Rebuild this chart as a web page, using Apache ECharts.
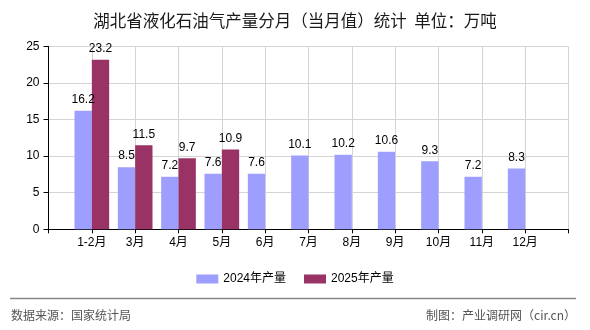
<!DOCTYPE html>
<html>
<head>
<meta charset="utf-8">
<script src="https://cdn.jsdelivr.net/npm/echarts@6/dist/echarts.min.js"></script>
<style>
html,body{margin:0;padding:0;background:#fff;}
#c{width:590px;height:330px;}
</style>
</head>
<body>
<div id="c"></div>
<script>
const titleText = '湖北省液化石油气产量分月（当月值）统计  单位：万吨';
const categories = ['1-2月','3月','4月','5月','6月','7月','8月','9月','10月','11月','12月'];
const seriesNames = ['2024年产量','2025年产量'];
const values2024 = [16.2, 8.5, 7.2, 7.6, 7.6, 10.1, 10.2, 10.6, 9.3, 7.2, 8.3];
const values2025 = [23.2, 11.5, 9.7, 10.9];
const yTicks = [0, 5, 10, 15, 20, 25];
const sourceText = '数据来源：国家统计局';
const creditText = '制图：产业调研网（cir.cn）';

const FONT = "'Liberation Sans', 'Noto Sans CJK SC', sans-serif";
const axisData = [''].concat(categories, ['']);
function pad(arr) {
  const out = [null];
  for (let i = 0; i < categories.length; i++) out.push(i < arr.length ? arr[i] : null);
  out.push(null);
  return out;
}

const chart = echarts.init(document.getElementById('c'), null, {renderer: 'canvas'});
chart.setOption({
  backgroundColor: '#ffffff',
  animation: false,
  title: {
    text: titleText,
    left: 'center',
    top: 7,
    textStyle: {fontSize: 16.5, fontWeight: 'normal', color: '#1a1a1a', fontFamily: "'Noto Sans CJK SC', sans-serif"}
  },
  legend: {
    data: seriesNames,
    top: 268,
    left: 'center',
    icon: 'rect',
    itemWidth: 22,
    itemHeight: 9,
    itemGap: 18,
    textStyle: {fontSize: 12, color: '#000', fontFamily: FONT}
  },
  grid: {left: 48.5, right: 21.5, top: 46.5, bottom: 100.7, containLabel: false},
  xAxis: {
    type: 'category',
    data: axisData,
    boundaryGap: false,
    axisLine: {show: true, lineStyle: {color: '#000', width: 1}},
    axisTick: {show: true, interval: 0, length: 4, lineStyle: {color: '#000'}},
    axisLabel: {interval: 0, margin: 7, fontSize: 12, color: '#000', fontFamily: FONT},
    splitLine: {show: true, interval: 0, lineStyle: {color: '#d4d4d4', width: 1}}
  },
  yAxis: {
    type: 'value',
    min: yTicks[0],
    max: yTicks[yTicks.length - 1],
    interval: yTicks[1] - yTicks[0],
    axisLine: {show: true, lineStyle: {color: '#000', width: 1}},
    axisTick: {show: true, length: 5, lineStyle: {color: '#000'}},
    axisLabel: {margin: 9, fontSize: 12, color: '#000', fontFamily: FONT},
    splitLine: {show: true, lineStyle: {color: '#d4d4d4', width: 1}}
  },
  series: [
    {
      name: seriesNames[0],
      type: 'bar',
      data: pad(values2024),
      barGap: '0%',
      barCategoryGap: '20%',
      itemStyle: {color: '#9e9eff'},
      label: {show: true, position: 'top', distance: 5, fontSize: 12, color: '#000', fontFamily: FONT}
    },
    {
      name: seriesNames[1],
      type: 'bar',
      data: pad(values2025),
      barGap: '0%',
      barCategoryGap: '20%',
      itemStyle: {color: '#993366'},
      label: {show: true, position: 'top', distance: 5, fontSize: 12, color: '#000', fontFamily: FONT}
    }
  ],
  graphic: [
    {type: 'line', shape: {x1: 10, y1: 298.5, x2: 576, y2: 298.5}, style: {stroke: '#888', lineWidth: 1.5}},
    {type: 'text', left: 11, top: 309, style: {text: sourceText, fontSize: 12, fill: '#555', fontFamily: "'Noto Sans CJK SC', sans-serif"}},
    {type: 'text', right: 14, top: 309, style: {text: creditText, fontSize: 12, fill: '#555', fontFamily: "'Noto Sans CJK SC', sans-serif"}}
  ]
});
</script>
</body>
</html>
